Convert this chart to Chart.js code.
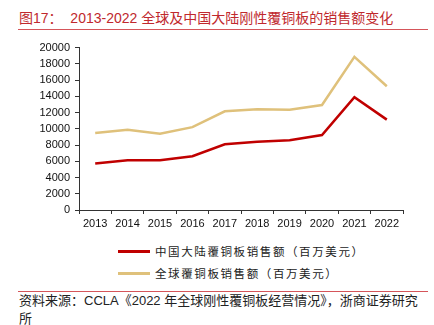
<!DOCTYPE html>
<html>
<head>
<meta charset="utf-8">
<script src="https://cdn.jsdelivr.net/npm/chart.js@4"></script>
<style>
    body { margin: 0; background: #fff; width: 434px; height: 325px; position: relative; overflow: hidden;
           font-family: "Liberation Sans", "Noto Sans CJK SC", sans-serif; }
    .title { position: absolute; left: 19px; top: 7px; font-size: 14px; color: #c0282d; white-space: nowrap;
             font-family: "Liberation Sans", "Noto Sans CJK SC", sans-serif; }
    .rule { position: absolute; left: 18px; width: 410px; height: 1px; background: #d5555a; }
    .chart-box { position: absolute; left: 0; top: 36px; width: 412px; height: 196px; }
    .legend { position: absolute; left: 118px; font-size: 11.5px; color: #222; }
    .legend-row { display: flex; align-items: center; height: 22px; white-space: nowrap; letter-spacing: 1.6px; }
    .legend-line { width: 32px; height: 3px; margin-right: 5px; }
    .source { position: absolute; left: 19px; top: 292px; font-size: 13px; color: #222; line-height: 18px; }
</style>
</head>
<body>
<div class="title">图17：&nbsp;&nbsp;2013-2022 全球及中国大陆刚性覆铜板的销售额变化</div>
<div class="rule" style="top: 29px;"></div>
<div class="chart-box"><canvas id="salesChart" width="412" height="196"></canvas></div>
<div class="legend" id="legend" style="top: 240px;"></div>
<div class="rule" style="top: 291px;"></div>
<div class="source">资料来源：CCLA《2022 年全球刚性覆铜板经营情况》，浙商证券研究<br>所</div>

<script>
// Data (million USD)
const years = ['2013', '2014', '2015', '2016', '2017', '2018', '2019', '2020', '2021', '2022'];
const chinaSales = [5730, 6140, 6140, 6630, 8090, 8410, 8580, 9230, 13900, 11130];
const globalSales = [9470, 9880, 9390, 10200, 12160, 12400, 12360, 12930, 18860, 15240];
const seriesNames = ['中国大陆覆铜板销售额（百万美元）', '全球覆铜板销售额（百万美元）'];
const seriesColors = ['#c00000', '#dfc17b'];

const tickFont = { family: 'Liberation Sans, Arial, sans-serif', size: 11 };

const ctx = document.getElementById('salesChart');
const chart = new Chart(ctx, {
    type: 'line',
    data: {
        labels: years,
        datasets: [
            { label: seriesNames[0], data: chinaSales, borderColor: seriesColors[0], borderWidth: 2.5, pointRadius: 0, tension: 0 },
            { label: seriesNames[1], data: globalSales, borderColor: seriesColors[1], borderWidth: 2.5, pointRadius: 0, tension: 0 }
        ]
    },
    options: {
        responsive: false,
        animation: false,
        layout: { padding: { top: 10, right: 9, left: 0, bottom: 0 } },
        plugins: { legend: { display: false }, tooltip: { enabled: false } },
        scales: {
            x: {
                offset: true,
                grid: { offset: true, drawOnChartArea: false, tickLength: 4, color: '#333' },
                border: { color: '#333', width: 1 },
                ticks: { color: '#111', font: tickFont, padding: 3, maxRotation: 0, autoSkip: false },
                afterFit: (scale) => { scale.height = 22; }
            },
            y: {
                min: 0,
                max: 20000,
                grid: { drawOnChartArea: false, tickLength: 4, color: '#333' },
                border: { color: '#333', width: 1 },
                ticks: { stepSize: 2000, color: '#111', font: tickFont, padding: 5,
                         callback: (value) => String(value) },
                afterFit: (scale) => { scale.width = 79; }
            }
        }
    }
});

// Legend built from the same series definitions
const legend = document.getElementById('legend');
legend.innerHTML = seriesNames.map((name, i) => `
    <div class="legend-row">
        <span class="legend-line" style="background:${seriesColors[i]}"></span>
        <span>${name}</span>
    </div>`).join('');
</script>
</body>
</html>
